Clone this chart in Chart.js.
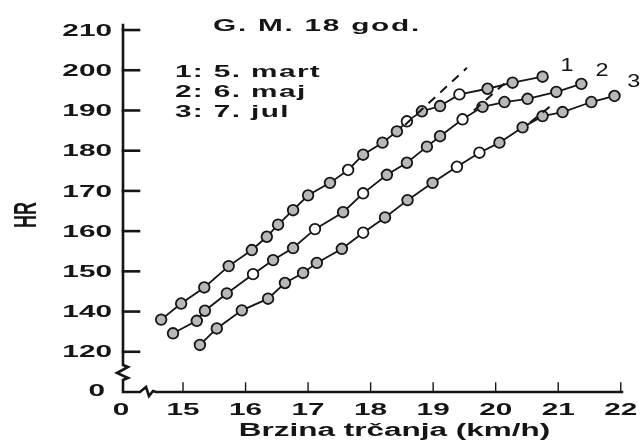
<!DOCTYPE html>
<html>
<head>
<meta charset="utf-8">
<script src="https://cdn.jsdelivr.net/npm/chart.js@4.4.1/dist/chart.umd.min.js"></script>
<style>
  body { margin: 0; background: #fff; }
  #wrap { width: 642px; height: 446px; position: relative; }
</style>
</head>
<body>
<div id="wrap"><canvas id="hr"></canvas></div>
<script>
// HR vs running speed, three tests
const series1X = [14.65, 14.97, 15.34, 15.73, 16.1, 16.34, 16.52, 16.76, 17.0, 17.35, 17.64, 17.88, 18.19, 18.42, 18.58, 18.82, 19.11, 19.42, 19.87, 20.27, 20.75];
const series1Y = [138, 142, 146, 151.3, 155.3, 158.6, 161.6, 165.2, 168.9, 172, 175.2, 179, 182, 184.8, 187.3, 189.8, 191.1, 194, 195.4, 196.9, 198.4];
const series2X = [14.84, 15.22, 15.35, 15.7, 16.12, 16.44, 16.76, 17.11, 17.56, 17.88, 18.26, 18.58, 18.9, 19.11, 19.47, 19.79, 20.14, 20.51, 20.97, 21.37];
const series2Y = [134.6, 137.7, 140.2, 144.5, 149.3, 152.8, 155.8, 160.5, 164.7, 169.4, 174, 177, 181, 183.6, 187.8, 190.9, 192.1, 192.9, 194.6, 196.6];
const series3X = [15.27, 15.54, 15.94, 16.36, 16.63, 16.92, 17.14, 17.54, 17.88, 18.23, 18.59, 18.99, 19.38, 19.74, 20.06, 20.43, 20.75, 21.07, 21.53, 21.9];
const series3Y = [131.7, 135.8, 140.3, 143.2, 147.1, 149.6, 152.1, 155.6, 159.6, 163.4, 167.7, 172, 176, 179.5, 182, 185.8, 188.6, 189.6, 192.1, 193.6];

// dashed extrapolations of the linear part
const dash1X = [18.55, 19.54];
const dash1Y = [186.4, 200.6];
const dash2X = [19.65, 20.2];
const dash2Y = [190, 197.5];
const dash3X = [20.55, 20.95];
const dash3Y = [187, 192];

// which points are drawn open (white)
const open1 = [10, 14, 17];
const open2 = [4, 7, 9, 14];
const open3 = [8, 12, 13];

const xTicks = [15, 16, 17, 18, 19, 20, 21, 22];
const xTickLabels = ['15', '16', '17', '18', '19', '20', '21', '22'];
const yTicks = [130, 140, 150, 160, 170, 180, 190, 200, 210];
const yTickLabels = ['120', '140', '150', '160', '170', '180', '190', '200', '210'];

const titleText = 'G. M. 18 god.';
const legendLines = ['1: 5. mart', '2: 6. maj', '3: 7. jul'];
const endLabels = ['1', '2', '3'];
const xTitle = 'Brzina trčanja (km/h)';
const yTitle = 'HR';

const toPoints = (xs, ys) => xs.map((v, i) => ({ x: v, y: ys[i] }));
const fills = (n, open) => Array.from({ length: n }, (_, i) => open.includes(i) ? '#ffffff' : '#b8b8bb');

const INK = '#151515';
const FONT = '"Liberation Sans", Arial, sans-serif';
const SX = 1.75; // the scan is stretched sideways

function wideText(ctx, str, x, y, align, font, sx, spacing) {
    ctx.save();
    ctx.font = font;
    ctx.fillStyle = INK;
    ctx.textAlign = align;
    ctx.textBaseline = 'middle';
    if (spacing) ctx.letterSpacing = spacing;
    ctx.translate(x, y);
    ctx.scale(sx, 1);
    ctx.fillText(str, 0, 0);
    ctx.restore();
}

function lineSet(label, xs, ys, open) {
    return {
        label: label,
        data: toPoints(xs, ys),
        showLine: true,
        borderColor: INK,
        borderWidth: 1.8,
        pointRadius: 5.3,
        pointBorderWidth: 1.8,
        pointBorderColor: INK,
        pointBackgroundColor: fills(xs.length, open),
        tension: 0
    };
}

function dashSet(xs, ys) {
    return {
        data: toPoints(xs, ys),
        showLine: true,
        borderColor: INK,
        borderWidth: 2,
        borderDash: [9, 7],
        pointRadius: 0
    };
}

const paperAxes = {
    id: 'paperAxes',
    beforeDatasetsDraw(chart) {
        const { ctx, chartArea: a, scales: { x, y } } = chart;
        const L = a.left, B = a.bottom;
        ctx.save();
        ctx.strokeStyle = INK;
        ctx.lineCap = 'square';
        ctx.lineJoin = 'miter';
        ctx.lineWidth = 2.6;
        // y axis with break
        ctx.beginPath();
        ctx.moveTo(L, a.top);
        ctx.lineTo(L, B - 27);
        ctx.lineTo(L + 5, B - 25);
        ctx.lineTo(L - 6, B - 19);
        ctx.lineTo(L + 5, B - 14);
        ctx.lineTo(L, B - 12);
        ctx.lineTo(L, B);
        // x axis with break
        ctx.lineTo(L + 17, B);
        ctx.lineTo(L + 23, B - 5);
        ctx.lineTo(L + 26, B + 4);
        ctx.lineTo(L + 30, B - 1);
        ctx.lineTo(L + 33, B);
        ctx.lineTo(a.right, B);
        ctx.stroke();
        // y ticks (inside)
        yTicks.forEach(v => {
            const py = y.getPixelForValue(v);
            ctx.beginPath();
            ctx.moveTo(L, py);
            ctx.lineTo(L + 16, py);
            ctx.stroke();
        });
        // x ticks (small, upward)
        ctx.lineWidth = 1.4;
        xTicks.forEach(v => {
            const px = x.getPixelForValue(v);
            ctx.beginPath();
            ctx.moveTo(px, B);
            ctx.lineTo(px, B - 9);
            ctx.stroke();
        });
        ctx.restore();
    },
    afterDraw(chart) {
        const { ctx, chartArea: a, scales: { x, y } } = chart;
        const bold = 'bold 17px ' + FONT;
        const L = a.left, B = a.bottom;

        yTicks.forEach((v, i) => wideText(ctx, yTickLabels[i], L - 11, y.getPixelForValue(v) + 1, 'right', bold, SX));
        xTicks.forEach((v, i) => wideText(ctx, xTickLabels[i], x.getPixelForValue(v), B + 18, 'center', bold, SX));

        // origin zeros of the broken axes
        wideText(ctx, '0', L - 18, B - 1, 'right', bold, SX);
        wideText(ctx, '0', L - 2, B + 18, 'center', bold, SX);

        // axis titles
        wideText(ctx, xTitle, (a.left + a.right) / 2 + 22, B + 39, 'center', 'bold 18px ' + FONT, SX);
        ctx.save();
        ctx.translate(27, 215);
        ctx.rotate(-Math.PI / 2);
        ctx.scale(1, SX);
        ctx.font = 'bold 18px ' + FONT;
        ctx.fillStyle = INK;
        ctx.textAlign = 'center';
        ctx.textBaseline = 'middle';
        ctx.fillText(yTitle, 0, 0);
        ctx.restore();

        // title and key, placed in data space
        wideText(ctx, titleText, x.getPixelForValue(15.48), y.getPixelForValue(211), 'left', bold, SX, '1px');
        const keyY = [199.6, 194.6, 189.6];
        legendLines.forEach((t, i) => wideText(ctx, t, x.getPixelForValue(14.87), y.getPixelForValue(keyY[i]), 'left', bold, SX, '0.8px'));

        // curve numbers
        const endX = [21.14, 21.7, 22.21];
        const endY = [201, 199.8, 197.1];
        endLabels.forEach((t, i) => wideText(ctx, t, x.getPixelForValue(endX[i]), y.getPixelForValue(endY[i]), 'center', '18px ' + FONT, 1.3));
    }
};

const ctx = document.getElementById('hr');
new Chart(ctx, {
    type: 'scatter',
    data: {
        datasets: [
            dashSet(dash1X, dash1Y),
            dashSet(dash2X, dash2Y),
            dashSet(dash3X, dash3Y),
            lineSet('1', series1X, series1Y, open1),
            lineSet('2', series2X, series2Y, open2),
            lineSet('3', series3X, series3Y, open3)
        ]
    },
    options: {
        responsive: true,
        maintainAspectRatio: false,
        animation: false,
        layout: { padding: { left: 123, top: 25, right: 20, bottom: 54 } },
        plugins: { legend: { display: false }, tooltip: { enabled: false } },
        scales: {
            x: { type: 'linear', display: false, min: 14.04, max: 22.02 },
            y: { type: 'linear', display: false, min: 120, max: 211.25 }
        }
    },
    plugins: [paperAxes]
});
</script>
</body>
</html>
